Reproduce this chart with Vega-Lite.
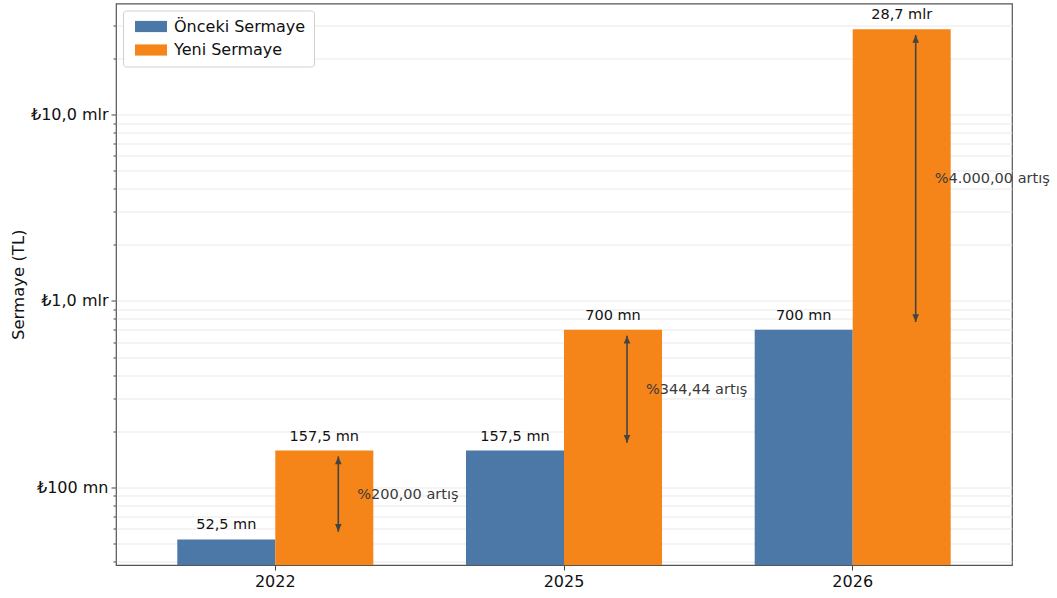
{
  "$schema": "https://vega.github.io/schema/vega-lite/v6.json",
  "autosize": "none",
  "width": 896,
  "height": 561.5,
  "padding": {"left": 116, "top": 3.5, "right": 45, "bottom": 33},
  "background": "white",
  "config": {
    "font": "DejaVu Sans",
    "view": {"stroke": "#555", "strokeWidth": 1.2},
    "axis": {"domain": false, "labelColor": "#111", "tickColor": "#444", "titleColor": "#111", "labelFontWeight": "normal", "titleFontWeight": "normal"}
  },
  "datasets": {
    "bars": [
      {"year": "2022", "series": "Önceki Sermaye", "value": 52500000, "label": "52,5 mn"},
      {"year": "2022", "series": "Yeni Sermaye", "value": 157500000, "label": "157,5 mn"},
      {"year": "2025", "series": "Önceki Sermaye", "value": 157500000, "label": "157,5 mn"},
      {"year": "2025", "series": "Yeni Sermaye", "value": 700000000, "label": "700 mn"},
      {"year": "2026", "series": "Önceki Sermaye", "value": 700000000, "label": "700 mn"},
      {"year": "2026", "series": "Yeni Sermaye", "value": 28700000000, "label": "28,7 mlr"}
    ],
    "changes": [
      {"year": "2022", "lo": 57750000, "hi": 146500000, "mid": 90900000, "text": "%200,00 artış"},
      {"year": "2025", "lo": 173250000, "hi": 651000000, "mid": 332000000, "text": "%344,44 artış"},
      {"year": "2026", "lo": 770000000, "hi": 26700000000, "mid": 4482000000, "text": "%4.000,00 artış"}
    ]
  },
  "layer": [
    {
      "data": {"name": "bars"},
      "mark": {"type": "bar", "clip": true},
      "encoding": {
        "x": {
          "field": "year", "type": "nominal", "sort": ["2022", "2025", "2026"],
          "scale": {"paddingInner": 0.321, "paddingOuter": 0.2123},
          "axis": {"title": null, "labelAngle": 0, "labelFontSize": 16, "labelPadding": 3, "tickSize": 5, "grid": false}
        },
        "xOffset": {"field": "series", "type": "nominal", "sort": ["Önceki Sermaye", "Yeni Sermaye"], "scale": {"paddingInner": 0, "paddingOuter": 0}},
        "y": {
          "field": "value", "type": "quantitative",
          "scale": {"type": "log", "domain": [38300000, 39400000000], "nice": false},
          "axis": {
            "title": "Sermaye (TL)",
            "titleFontSize": 16.5,
            "titleX": -90,
            "labelFontSize": 16,
            "labelPadding": 3,
            "values": [40000000, 50000000, 60000000, 70000000, 80000000, 90000000, 100000000, 200000000, 300000000, 400000000, 500000000, 600000000, 700000000, 800000000, 900000000, 1000000000, 2000000000, 3000000000, 4000000000, 5000000000, 6000000000, 7000000000, 8000000000, 9000000000, 10000000000, 20000000000, 30000000000],
            "labelExpr": "datum.value == 100000000 ? '₺100 mn' : datum.value == 1000000000 ? '₺1,0 mlr' : datum.value == 10000000000 ? '₺10,0 mlr' : ''",
            "tickSize": {"condition": {"test": "datum.value == 100000000 || datum.value == 1000000000 || datum.value == 10000000000", "value": 5}, "value": 3},
            "grid": true,
            "gridColor": "#e6e6e6",
            "gridWidth": 0.9
          }
        },
        "y2": {"datum": 38300000},
        "color": {
          "field": "series", "type": "nominal",
          "scale": {"domain": ["Önceki Sermaye", "Yeni Sermaye"], "range": ["#4c78a8", "#f58518"]},
          "legend": {
            "title": null,
            "orient": "top-left",
            "offset": 7,
            "padding": 8,
            "rowPadding": 7.5,
            "fillColor": "white",
            "strokeColor": "#d0d0d0",
            "cornerRadius": 3,
            "labelFontSize": 16,
            "labelColor": "#111",
            "labelOffset": 27,
            "symbolType": "M-1,-1.4H7V1.4H-1Z",
            "symbolSize": 64,
            "symbolStrokeWidth": 0,
            "symbolOpacity": 1
          }
        }
      }
    },
    {
      "data": {"name": "bars"},
      "mark": {"type": "text", "baseline": "bottom", "dy": -7, "fontSize": 14.5, "color": "#111"},
      "encoding": {
        "x": {"field": "year", "type": "nominal", "sort": ["2022", "2025", "2026"]},
        "xOffset": {"field": "series", "type": "nominal", "sort": ["Önceki Sermaye", "Yeni Sermaye"]},
        "y": {"field": "value", "type": "quantitative"},
        "text": {"field": "label"}
      }
    },
    {
      "data": {"name": "changes"},
      "mark": {"type": "rule", "xOffset": 63, "color": "#444", "strokeWidth": 1.6},
      "encoding": {
        "x": {"field": "year", "type": "nominal", "sort": ["2022", "2025", "2026"]},
        "y": {"field": "lo", "type": "quantitative"},
        "y2": {"field": "hi"}
      }
    },
    {
      "data": {"name": "changes"},
      "mark": {"type": "point", "shape": "M0,0L-1.1,2.6L1.1,2.6Z", "size": 36, "filled": true, "opacity": 1, "color": "#444", "xOffset": 63},
      "encoding": {
        "x": {"field": "year", "type": "nominal", "sort": ["2022", "2025", "2026"]},
        "y": {"field": "hi", "type": "quantitative"}
      }
    },
    {
      "data": {"name": "changes"},
      "mark": {"type": "point", "shape": "M0,0L-1.1,-2.6L1.1,-2.6Z", "size": 36, "filled": true, "opacity": 1, "color": "#444", "xOffset": 63},
      "encoding": {
        "x": {"field": "year", "type": "nominal", "sort": ["2022", "2025", "2026"]},
        "y": {"field": "lo", "type": "quantitative"}
      }
    },
    {
      "data": {"name": "changes"},
      "mark": {"type": "text", "align": "left", "baseline": "middle", "xOffset": 82, "fontSize": 14.5, "color": "#3a3a3a"},
      "encoding": {
        "x": {"field": "year", "type": "nominal", "sort": ["2022", "2025", "2026"]},
        "y": {"field": "mid", "type": "quantitative"},
        "text": {"field": "text"}
      }
    }
  ]
}
